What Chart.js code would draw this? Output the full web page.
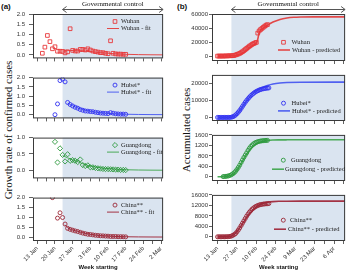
<!DOCTYPE html>
<html><head><meta charset="utf-8">
<script src="https://cdn.jsdelivr.net/npm/chart.js@4.4.1/dist/chart.umd.min.js"></script>
<style>
html,body{margin:0;padding:0;background:#fff;}
#wrap{position:relative;width:350px;height:273px;overflow:hidden;background:#fff;}
#wrap canvas{position:absolute;}
.lbl{position:absolute;white-space:nowrap;color:#111;line-height:1;}
.ytitle{position:absolute;white-space:nowrap;font-family:'Liberation Serif',serif;font-size:11px;color:#111;transform:translate(-50%,-50%) rotate(-90deg);line-height:1;}
</style></head><body>
<div id="wrap">
 <div class="lbl" style="left:1px;top:2px;font:bold 8px 'Liberation Sans',sans-serif;">(a)</div>
 <div class="lbl" style="left:177px;top:2px;font:bold 8px 'Liberation Sans',sans-serif;">(b)</div>
 <div class="ytitle" style="left:8px;top:130px;">Growth rate of confirmed cases</div>
 <div class="ytitle" style="left:186px;top:130px;">Accumulated cases</div>
</div>
<script>
// ---------- axes (x values are days counted from 13 Jan) ----------
const leftXLabels = ['13 Jan','20 Jan','27 Jan','3 Feb','10 Feb','17 Feb','24 Feb','2 Mar'];
const leftXLabelDays = [0,7,14,21,28,35,42,49];
const rightXLabels = ['13 Jan','27 Jan','10 Feb','24 Feb','9 Mar','23 Mar','6 Apr'];
const rightXLabelDays = [0,14,28,42,56,70,84];
const controlStartDay = 10; // 23 Jan
const controlText = 'Governmental control';

const rateTicks = [0,0.5,1.0,1.5,2.0];
const rateTicksGD = [0,0.5,1.0];
const wuhanCumTicks = [0,20000,40000,60000];
const hubeiCumTicks = [0,5000,10000,15000,20000,25000];
const gdCumTicks = [0,400,800,1200,1600];
const chinaCumTicks = [0,4000,8000,12000,16000];

// ---------- (a) growth rate ----------
const wuhanRateDays = [2,3,4,5,6,7,8,9,10,11,12,13,14,15,16,17,18,19,20,21,22,23,24,25,26,27,28,29,30,31,32,33,34,35];
const wuhanRate = [0.08,0.38,0.95,0.65,0.30,0.40,0.18,0.18,0.17,0.10,0.15,1.28,0.22,0.19,0.19,0.27,0.27,0.24,0.30,0.24,0.19,0.16,0.14,0.11,0.11,0.08,0.06,0.69,0.08,0.05,0.04,0.04,0.03,0.03];
const wuhanFitDays = [10,13,16,19,22,25,28,31,35,40,45,50];
const wuhanFit = [0.24,0.22,0.20,0.18,0.15,0.11,0.08,0.055,0.03,0.015,0.007,0.003];

const hubeiRateDays = [7,8,9,10,11,12,13,14,15,16,17,18,19,20,21,22,23,24,25,26,27,28,29,30,31,32,33,34,35];
const hubeiRate = [0.0,0.58,1.84,1.92,1.77,0.66,0.55,0.47,0.40,0.35,0.28,0.24,0.20,0.19,0.17,0.16,0.13,0.11,0.09,0.08,0.07,0.06,0.11,0.08,0.05,0.04,0.03,0.03,0.02];
const hubeiFitDays = [12,14,16,18,20,23,26,30,35,40,45,50];
const hubeiFit = [0.62,0.48,0.37,0.28,0.21,0.14,0.09,0.05,0.025,0.012,0.006,0.003];

const gdRateDays = [7,8,9,10,11,12,13,14,15,16,17,18,19,20,21,22,23,24,25,26,27,28,29,30,31,32,33,34,35];
const gdRate = [0.87,0.24,0.67,0.47,0.27,0.49,0.29,0.31,0.29,0.25,0.33,0.16,0.13,0.15,0.09,0.09,0.07,0.06,0.05,0.04,0.035,0.035,0.03,0.025,0.02,0.02,0.01,0.01,0.005];
const gdFitDays = [10,12,14,16,18,20,23,26,30,35,40,45,50];
const gdFit = [0.45,0.38,0.32,0.26,0.20,0.15,0.10,0.065,0.035,0.015,0.007,0.003,0.001];

const chinaRateDays = [6,8,9,10,11,12,13,14,15,16,17,18,19,20,21,22,23,24,25,26,27,28,29,30,31,32,33,34,35];
const chinaRate = [2.0,0.96,1.23,0.99,0.66,0.44,0.39,0.35,0.31,0.28,0.24,0.20,0.17,0.14,0.13,0.11,0.09,0.08,0.065,0.06,0.05,0.045,0.03,0.03,0.03,0.02,0.02,0.015,0.01];
const chinaFitDays = [11,12,14,16,18,20,23,26,30,35,40,45,50];
const chinaFit = [0.62,0.48,0.36,0.29,0.22,0.16,0.10,0.065,0.035,0.015,0.007,0.003,0.001];

// ---------- (b) accumulated cases ----------
const wuhanCumDays = [0,1,2,3,4,5,6,7,8,9,10,11,12,13,14,15,16,17,18,19,20,21,22,23,24,25,26,27,28,29,30,31,32,33,34,35,36];
const wuhanCum = [40,40,42,45,62,120,200,260,360,420,500,600,900,1600,2300,3000,3900,5000,6300,7800,9400,11000,12600,14100,15500,16800,17900,18800,19600,32800,35800,37800,39400,41000,42600,44000,44900];
const wuhanPredDays = [0,5,10,13,16,19,22,25,28,29,30,33,36,40,45,50,55,60,70,92];
const wuhanPred = [0,60,350,900,2400,5200,9800,14500,18500,24000,33500,39500,44000,48500,52300,54300,55300,55700,55900,55950];

const hubeiCumDays = [0,1,2,3,4,5,6,7,8,9,10,11,12,13,14,15,16,17,18,19,20,21,22,23,24,25,26,27,28,29,30,31,32,33,34,35,36,37];
const hubeiCum = [0,0,0,0,0,0,0,5,8,25,150,400,800,1400,2200,3100,4100,5300,6500,7700,8900,10000,11000,11900,12800,13500,14200,14800,15300,15700,16100,16400,16650,16850,17000,17150,17250,17350];
const hubeiPredDays = [0,8,10,12,14,16,18,20,22,24,26,28,30,33,36,40,45,50,60,92];
const hubeiPred = [0,20,150,700,2000,3900,6200,8600,10800,12700,14300,15600,16600,17800,18700,19600,20200,20500,20700,20750];

const gdCumDays = [4,5,6,7,8,9,10,11,12,13,14,15,16,17,18,19,20,21,22,23,24,25,26,27,28,29,30,31,32,33,34,35,36];
const gdCum = [8,12,17,26,35,55,80,115,155,210,280,360,445,545,645,740,830,915,1010,1090,1160,1215,1260,1295,1320,1340,1355,1365,1373,1380,1385,1388,1390];
const gdPredDays = [0,3,6,8,10,12,14,16,18,20,22,24,26,28,30,33,36,40,45,50,60,92];
const gdPred = [2,5,14,30,65,140,260,420,600,780,940,1070,1170,1250,1310,1360,1390,1405,1410,1412,1413,1413];

const chinaCumDays = [0,1,2,3,4,5,6,7,8,9,10,11,12,13,14,15,16,17,18,19,20,21,22,23,24,25,26,27,28,29,30,31,32,33,34,35,36,37];
const chinaCum = [0,0,0,0,5,10,20,40,80,150,300,550,850,1250,1900,2600,3400,4300,5200,6100,7000,7900,8700,9400,10000,10600,11000,11400,11700,11950,12150,12300,12400,12500,12550,12600,12650,12700];
const chinaPredDays = [0,8,10,12,14,16,18,20,22,24,26,28,30,33,36,40,45,50,60,92];
const chinaPred = [0,60,250,900,2000,3400,5000,6600,8100,9400,10500,11400,12100,12800,13200,13450,13560,13600,13620,13620];

// ---------- styling ----------
const C = {
  wuhan:'#e8383a', wuhanLine:'#e24848',
  hubei:'#3232f2', hubeiLine:'#5060f0',
  gd:'#2e9a3e', gdLine:'#4aaa58',
  china:'#9c2838', chinaLine:'#a33244'
};
Chart.defaults.font.family = "'Liberation Sans', Arial, sans-serif";

function pts(days, vals){ return days.map((d,i)=>({x:d, y:vals[i]})); }
function ticksEvery(step, from, to){ const t=[]; for(let v=from; v<=to+1e-9; v+=step) t.push(v); return t; }

const COLS = {
  L:{left:0, width:168, yW:33, padR:4, xMin:-1.7, xMax:49.8, labelDays:leftXLabelDays, labels:leftXLabels, minor:3.5, yTickLen:4, yPad:4, lineW:1},
  R:{left:175, width:175, yW:37, padR:3, xMin:-4, xMax:92, labelDays:rightXLabelDays, labels:rightXLabels, minor:7, yTickLen:3, yPad:1, lineW:1.6}
};

const deco = {
  id:'deco',
  beforeDatasetsDraw(chart, args, o){
    const {ctx, chartArea:a, scales:{x}} = chart;
    const x0 = x.getPixelForValue(o.shadeFrom);
    ctx.save(); ctx.fillStyle = '#dae4f0';
    ctx.fillRect(x0, a.top, a.right - x0, a.bottom - a.top);
    ctx.restore();
  },
  afterDatasetsDraw(chart, args, o){
    const {ctx, chartArea:a} = chart;
    ctx.save();
    ctx.strokeStyle = '#3a3a3a'; ctx.lineWidth = 1;
    ctx.strokeRect(a.left+0.5, a.top+0.5, a.right-a.left-1, a.bottom-a.top-1);
    const L = o.leg, ds = chart.data.datasets, m = ds[0], f = ds[1];
    const mx = a.left + L.mx, my = a.top + L.my;
    ctx.strokeStyle = m.borderColor; ctx.lineWidth = m.borderWidth; ctx.fillStyle = 'rgba(0,0,0,0)';
    if (Chart.helpers && Chart.helpers.drawPoint) {
      Chart.helpers.drawPoint(ctx, {pointStyle:m.pointStyle, radius:m.pointRadius, borderWidth:m.borderWidth, rotation:0}, mx, my);
    } else { ctx.beginPath(); ctx.arc(mx,my,m.pointRadius,0,Math.PI*2); ctx.stroke(); }
    const ly = a.top + L.ly;
    ctx.strokeStyle = f.borderColor; ctx.lineWidth = f.borderWidth;
    ctx.beginPath(); ctx.moveTo(a.left+L.lx0, ly); ctx.lineTo(a.left+L.lx1, ly); ctx.stroke();
    ctx.fillStyle = '#222'; ctx.font = "6.5px 'Liberation Serif', serif";
    ctx.textAlign = 'left'; ctx.textBaseline = 'middle';
    ctx.fillText(m.label, a.left+L.t1, my);
    ctx.fillText(f.label, a.left+L.t2, ly);
    ctx.restore();
  },
  afterDraw(chart, args, o){
    if (!o.arrow) return;
    const {ctx, chartArea:a, scales:{x}} = chart;
    const x0 = x.getPixelForValue(o.shadeFrom), x1 = a.right;
    const y = a.top - 4.5;
    ctx.save();
    ctx.strokeStyle = '#555'; ctx.lineWidth = 1;
    ctx.beginPath();
    ctx.moveTo(x0, y); ctx.lineTo(x1, y);
    ctx.moveTo(x0+4, y-3); ctx.lineTo(x0, y); ctx.lineTo(x0+4, y+3);
    ctx.moveTo(x1-4, y-3); ctx.lineTo(x1, y); ctx.lineTo(x1-4, y+3);
    ctx.stroke();
    ctx.fillStyle = '#111'; ctx.font = "7px 'Liberation Serif', serif";
    ctx.textAlign = 'center'; ctx.textBaseline = 'middle';
    ctx.fillText(o.text, (x0+x1)/2, a.top - 10);
    ctx.restore();
  }
};

const wrap = document.getElementById('wrap');

function makePanel(p){
  const col = COLS[p.col];
  const T = 14 + 60*p.row;
  const padTop = p.row === 0 ? 14 : 4;
  const bottomRow = p.row === 3;
  const xH = bottomRow ? 32 : 5;
  const top = T - padTop;
  const h = padTop + 47 + xH;
  const cv = document.createElement('canvas');
  cv.width = col.width; cv.height = h;
  cv.style.left = col.left + 'px'; cv.style.top = top + 'px';
  cv.style.width = col.width + 'px'; cv.style.height = h + 'px';
  wrap.appendChild(cv);
  const xTicks = ticksEvery(col.minor, 0, col.xMax);
  const markerR = p.pointStyle === 'rect' ? 2.6 : (p.pointStyle === 'rectRot' ? 2.6 : 2);
  new Chart(cv, {
    type:'scatter',
    data:{datasets:[
      {label:p.label, data:pts(p.days, p.vals), showLine:false, pointStyle:p.pointStyle, pointRadius:markerR,
       borderColor:p.color, backgroundColor:'rgba(0,0,0,0)', borderWidth:0.9, pointBorderWidth:0.9},
      {label:p.fitLabel, data:pts(p.fitDays, p.fitVals), showLine:true, pointRadius:0, borderColor:p.lineColor,
       borderWidth:col.lineW, cubicInterpolationMode:'monotone', fill:false}
    ]},
    options:{
      responsive:false, animation:false, devicePixelRatio:1,
      layout:{padding:{top:padTop, right:col.padR, left:0, bottom:0}},
      plugins:{legend:{display:false}, tooltip:{enabled:false},
        deco:{shadeFrom:controlStartDay, arrow:p.row===0, text:controlText, leg:p.leg}},
      scales:{
        x:{type:'linear', min:col.xMin, max:col.xMax,
          afterBuildTicks:s=>{ s.ticks = xTicks.map(v=>({value:v})); },
          afterFit:s=>{ s.height = xH; },
          ticks:{display:bottomRow, autoSkip:false, minRotation:45, maxRotation:45, padding:1,
            font:{size:6}, color:'#333',
            callback:(v)=>{ const i = col.labelDays.indexOf(v); return i>=0 ? col.labels[i] : ''; }},
          grid:{drawOnChartArea:false, drawTicks:true, tickLength:3, color:'#3a3a3a', lineWidth:0.8},
          border:{display:false},
          title:{display:bottomRow, text:'Week starting', font:{size:6, weight:'bold'}, color:'#111', padding:{top:0,bottom:2}}
        },
        y:{type:'linear', min:p.yMin, max:p.yMax,
          afterBuildTicks:s=>{ s.ticks = p.yTicks.map(v=>({value:v})); },
          afterFit:s=>{ s.width = col.yW; },
          ticks:{padding:col.yPad, font:{size:6}, color:'#333',
            callback:(v)=> p.col==='L' ? Number(v).toFixed(1) : String(v)},
          grid:{drawOnChartArea:false, drawTicks:true, tickLength:col.yTickLen, color:'#3a3a3a', lineWidth:0.8},
          border:{display:false}
        }
      }
    },
    plugins:[deco]
  });
}

const legL = {mx:82, my:7.5, t1:88, lx0:74, lx1:86, ly:14.5, t2:88};
const legR1 = {mx:71.5, my:28.3, t1:79.5, lx0:66, lx1:78, ly:36, t2:80};
const legR3 = {mx:71.3, my:25.3, t1:79, lx0:60, lx1:72, ly:34.3, t2:73};
const legR4 = {mx:71.3, my:25.3, t1:78, lx0:62, lx1:74, ly:34.3, t2:76};

makePanel({col:'L', row:0, label:'Wuhan', fitLabel:'Wuhan - fit', days:wuhanRateDays, vals:wuhanRate, fitDays:wuhanFitDays, fitVals:wuhanFit,
  pointStyle:'rect', color:C.wuhan, lineColor:C.wuhanLine, yMin:-0.17, yMax:2.0, yTicks:rateTicks, leg:legL});
makePanel({col:'L', row:1, label:'Hubei*', fitLabel:'Hubei* - fit', days:hubeiRateDays, vals:hubeiRate, fitDays:hubeiFitDays, fitVals:hubeiFit,
  pointStyle:'circle', color:C.hubei, lineColor:C.hubeiLine, yMin:-0.2, yMax:2.0, yTicks:rateTicks, leg:legL});
makePanel({col:'L', row:2, label:'Guangdong', fitLabel:'Guangdong - fit', days:gdRateDays, vals:gdRate, fitDays:gdFitDays, fitVals:gdFit,
  pointStyle:'rectRot', color:C.gd, lineColor:C.gdLine, yMin:-0.25, yMax:1.0, yTicks:rateTicksGD, leg:legL});
makePanel({col:'L', row:3, label:'China**', fitLabel:'China** - fit', days:chinaRateDays, vals:chinaRate, fitDays:chinaFitDays, fitVals:chinaFit,
  pointStyle:'circle', color:C.china, lineColor:C.chinaLine, yMin:-0.2, yMax:2.0, yTicks:rateTicks, leg:legL});

makePanel({col:'R', row:0, label:'Wuhan', fitLabel:'Wuhan - predicted', days:wuhanCumDays, vals:wuhanCum, fitDays:wuhanPredDays, fitVals:wuhanPred,
  pointStyle:'rect', color:C.wuhan, lineColor:C.wuhanLine, yMin:-7000, yMax:60000, yTicks:wuhanCumTicks, leg:legR1});
makePanel({col:'R', row:1, label:'Hubei*', fitLabel:'Hubei* - predicted', days:hubeiCumDays, vals:hubeiCum, fitDays:hubeiPredDays, fitVals:hubeiPred,
  pointStyle:'circle', color:C.hubei, lineColor:C.hubeiLine, yMin:-2100, yMax:25000, yTicks:hubeiCumTicks, leg:legR1});
makePanel({col:'R', row:2, label:'Guangdong', fitLabel:'Guangdong - predicted', days:gdCumDays, vals:gdCum, fitDays:gdPredDays, fitVals:gdPred,
  pointStyle:'circle', color:C.gd, lineColor:C.gdLine, yMin:-160, yMax:1600, yTicks:gdCumTicks, leg:legR3});
makePanel({col:'R', row:3, label:'China**', fitLabel:'China** - predicted', days:chinaCumDays, vals:chinaCum, fitDays:chinaPredDays, fitVals:chinaPred,
  pointStyle:'circle', color:C.china, lineColor:C.chinaLine, yMin:-1600, yMax:16000, yTicks:chinaCumTicks, leg:legR4});
</script></body></html>
